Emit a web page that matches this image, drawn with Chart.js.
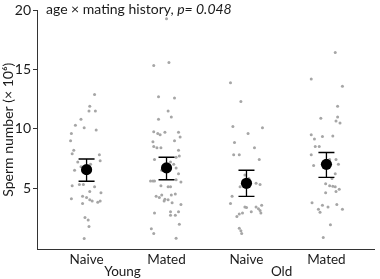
<!DOCTYPE html>
<html>
<head>
<meta charset="utf-8">
<script src="https://cdn.jsdelivr.net/npm/chart.js@4"></script>
<style>
  html, body { margin: 0; padding: 0; background: #fff; }
  #wrap { width: 380px; height: 279px; }
</style>
</head>
<body>
<div id="wrap"><canvas id="chart"></canvas></div>
<script>
// categories
const groupLabels = ['Naive', 'Mated', 'Naive', 'Mated'];
const ageLabels = ['Young', 'Old'];
const yTicks = [5, 10, 15, 20];

// means with error bars (x 10^6)
const meanValues = [6.55, 6.7, 5.4, 7.0];
const errLow = [5.57, 5.7, 4.3, 5.9];
const errHigh = [7.45, 7.6, 6.5, 8.0];

const naiveYoung = [12.9, 11.9, 11.5, 11.5, 10.8, 10.3, 10.1, 9.9, 9.6, 9.0, 8.2, 7.9, 7.8, 7.3, 7.2,
    6.5, 6.8, 6.6, 7.0, 5.2, 5.3, 5.3, 5.1, 4.6, 4.7, 4.1, 4.3, 4.2, 4.0, 3.9, 3.8, 3.9, 3.7, 2.5, 2.3, 1.75, 0.74];
const naiveYoungJitter = [0.10, 0.04, 0.03, 0.11, -0.07, -0.14, -0.03, 0.12, -0.19, -0.20, -0.16, -0.18, 0.16, 0.17, -0.11,
    -0.15, -0.07, -0.04, 0.05, -0.18, -0.09, -0.04, 0.10, 0.18, 0.04, -0.19, -0.05, 0.00, 0.04, 0.07, 0.14, 0.17, -0.05, -0.02, 0.02, 0.03, -0.03];

const matedYoung = [19.3, 15.35, 15.6, 12.7, 12.6, 11.5, 11.0, 10.8, 9.7, 9.3, 9.75, 9.6, 9.7, 9.5, 8.9, 9.0, 8.5, 8.4, 8.4,
    8.2, 7.7, 7.4, 7.6, 6.7, 6.2, 5.6, 5.6, 5.6, 5.7, 5.5, 5.2, 5.1, 5.1, 4.3, 4.2, 4.4, 4.4, 4.5, 4.05, 3.9, 4.0,
    3.75, 3.6, 2.9, 3.0, 3.0, 2.7, 2.7, 1.95, 1.55, 1.15, 0.76, 7.2, 6.5, 7.0];
const matedYoungJitter = [0.00, -0.16, 0.03, -0.10, 0.10, 0.02, 0.06, -0.10, 0.15, 0.17, -0.16, -0.11, -0.02, -0.08, -0.17, 0.10, -0.16, -0.12, -0.07,
    0.15, 0.16, -0.15, 0.12, 0.12, 0.15, -0.20, -0.17, -0.15, 0.12, 0.18, -0.07, 0.02, 0.05, -0.13, -0.09, -0.06, 0.06, 0.11, -0.02, -0.03, 0.02,
    0.07, 0.18, -0.15, 0.05, 0.15, 0.05, 0.11, 0.16, -0.19, -0.16, 0.12, 0.05, -0.06, 0.09];

const naiveOld = [13.9, 12.3, 10.2, 9.6, 10.1, 8.85, 8.4, 7.8, 7.8, 7.4, 5.4, 5.3, 5.1, 4.3, 3.7, 3.4, 3.35, 3.4,
    3.25, 3.55, 3.1, 2.9, 3.0, 2.9, 2.8, 2.6, 1.6, 1.4, 1.15, 5.8, 6.1];
const naiveOldJitter = [-0.20, -0.07, -0.17, 0.02, 0.20, -0.15, 0.10, -0.16, -0.09, 0.16, 0.12, 0.17, -0.08, -0.18, -0.20, -0.02, 0.00, 0.12,
    0.15, 0.19, 0.17, 0.18, 0.06, -0.05, -0.09, -0.12, -0.09, -0.07, -0.06, 0.03, -0.02];

const matedOld = [16.45, 14.2, 13.6, 11.9, 10.9, 11.0, 10.65, 10.5, 9.5, 9.15, 9.35, 9.4, 8.5, 8.5, 7.8, 6.9, 7.4, 7.0,
    6.2, 5.8, 5.35, 5.2, 5.15, 5.1, 4.9, 4.7, 4.6, 3.75, 3.55, 3.4, 3.6, 3.2, 3.2, 2.95, 1.9, 0.82, 7.4];
const matedOldJitter = [0.11, -0.19, 0.20, 0.14, -0.07, 0.14, 0.12, 0.17, -0.19, -0.15, -0.05, 0.08, -0.14, -0.09, -0.19, -0.16, 0.12, 0.15,
    0.11, 0.07, -0.01, 0.04, 0.08, 0.11, 0.16, 0.12, -0.01, -0.18, -0.05, 0.02, 0.13, 0.20, -0.10, -0.08, 0.05, -0.04, 0.04];

const rawValues = [naiveYoung, matedYoung, naiveOld, matedOld];
const rawJitter = [naiveYoungJitter, matedYoungJitter, naiveOldJitter, matedOldJitter];

const FONT = 'Lato, "Open Sans", sans-serif';

const rawPoints = [];
rawValues.forEach((vals, g) => {
    vals.forEach((v, i) => rawPoints.push({ x: g + 1 + rawJitter[g][i], y: v }));
});
const meanPoints = meanValues.map((v, g) => ({ x: g + 1, y: v }));

// error bars + annotation text
const extrasPlugin = {
    id: 'extras',
    afterDatasetsDraw(chart) {
        const { ctx, scales: { x, y } } = chart;
        ctx.save();
        ctx.strokeStyle = '#000';
        ctx.lineWidth = 1.3;
        meanValues.forEach((m, g) => {
            const px = x.getPixelForValue(g + 1);
            const lo = y.getPixelForValue(errLow[g]);
            const hi = y.getPixelForValue(errHigh[g]);
            const cap = 8;
            ctx.beginPath();
            ctx.moveTo(px, lo); ctx.lineTo(px, hi);
            ctx.moveTo(px - cap, lo); ctx.lineTo(px + cap, lo);
            ctx.moveTo(px - cap, hi); ctx.lineTo(px + cap, hi);
            ctx.stroke();
        });
        ctx.restore();
    },
    afterDraw(chart) {
        const { ctx, chartArea, scales: { x } } = chart;
        ctx.save();
        ctx.fillStyle = '#1a1a1a';
        ctx.textBaseline = 'middle';
        ctx.textAlign = 'left';
        const part1 = 'age \u00d7 mating history, ';
        ctx.font = '14px ' + FONT;
        const tx = chartArea.left + 9;
        const ty = 9;
        ctx.fillText(part1, tx, ty);
        const w = ctx.measureText(part1).width;
        ctx.font = 'italic 14px ' + FONT;
        ctx.fillText('p= 0.048', tx + w, ty);

        ctx.font = '13.5px ' + FONT;
        ctx.textAlign = 'center';
        ctx.fillText(ageLabels[0], x.getPixelForValue(1.45), 272);
        ctx.fillText(ageLabels[1], x.getPixelForValue(3.44), 272);
        ctx.restore();
    }
};

new Chart(document.getElementById('chart'), {
    type: 'scatter',
    data: {
        datasets: [
            {
                data: meanPoints,
                pointRadius: 5.6,
                pointBackgroundColor: '#000',
                pointBorderColor: '#000',
                pointBorderWidth: 0,
                order: 0
            },
            {
                data: rawPoints,
                pointRadius: 1.5,
                pointBackgroundColor: '#a6a6a6',
                pointBorderColor: '#a6a6a6',
                pointBorderWidth: 0,
                order: 1
            }
        ]
    },
    options: {
        responsive: true,
        maintainAspectRatio: false,
        animation: false,
        layout: { padding: { top: 7, right: 0, left: 0, bottom: 0 } },
        plugins: { legend: { display: false }, tooltip: { enabled: false } },
        scales: {
            x: {
                type: 'linear',
                min: 0.38,
                max: 4.6,
                afterBuildTicks: (s) => { s.ticks = [1, 2, 3, 4].map(v => ({ value: v })); },
                afterFit: (s) => { s.height = 30; },
                grid: { display: false, drawTicks: false },
                border: { display: true, color: '#333', width: 1 },
                ticks: {
                    padding: 3,
                    color: '#1a1a1a',
                    font: { family: FONT, size: 13.5 },
                    callback: (v) => groupLabels[v - 1] || ''
                }
            },
            y: {
                min: -0.15,
                max: 20,
                afterBuildTicks: (s) => { s.ticks = yTicks.map(v => ({ value: v })); },
                afterFit: (s) => { s.width = 37; },
                grid: { display: true, drawOnChartArea: false, tickLength: 4, color: '#333' },
                border: { display: true, color: '#333', width: 1 },
                ticks: {
                    padding: 2,
                    color: '#1a1a1a',
                    font: { family: FONT, size: 14 }
                },
                title: {
                    display: true,
                    text: 'Sperm number (\u00d7 10\u2076)',
                    color: '#1a1a1a',
                    font: { family: FONT, size: 14 },
                    padding: { top: 0, bottom: 1 }
                }
            }
        }
    },
    plugins: [extrasPlugin]
});
</script>
</body>
</html>
